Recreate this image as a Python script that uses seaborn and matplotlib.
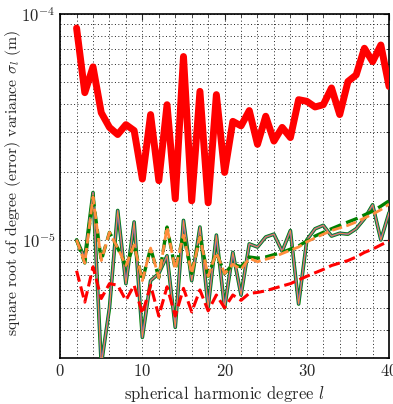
import numpy as np
import pandas as pd
import matplotlib
matplotlib.use("Agg")
import matplotlib.pyplot as plt
from matplotlib.ticker import MultipleLocator, LogLocator, NullFormatter
import seaborn as sns

# spherical harmonic degrees
degree = list(range(2, 41))

# signal degree variance (thick red)
signal = [8.68e-5, 4.49e-5, 5.84e-5, 3.66e-5, 3.15e-5, 2.93e-5, 3.24e-5, 3.05e-5,
          1.86e-5, 3.59e-5, 1.83e-5, 3.97e-5, 1.52e-5, 6.49e-5, 1.49e-5, 4.55e-5,
          1.46e-5, 4.40e-5, 1.99e-5, 3.35e-5, 3.20e-5, 3.74e-5, 2.65e-5, 3.53e-5,
          2.74e-5, 3.15e-5, 2.84e-5, 4.18e-5, 4.11e-5, 3.88e-5, 3.97e-5, 4.71e-5,
          3.59e-5, 5.03e-5, 5.38e-5, 7.06e-5, 6.16e-5, 7.30e-5, 4.78e-5]

# empirical error degree variance (solid, stacked colours)
error_emp = [1.0e-5, 8.3e-6, 1.62e-5, 2.8e-6, 5.0e-6, 1.35e-5, 6.4e-6, 1.2e-5,
             3.7e-6, 6.6e-6, 7.1e-6, 8.5e-6, 4.1e-6, 1.22e-5, 6.6e-6, 1.14e-5,
             5.05e-6, 1.05e-5, 5.0e-6, 8.8e-6, 5.7e-6, 9.6e-6, 9.3e-6, 1.03e-5,
             1.06e-5, 8.9e-6, 1.1e-5, 5.2e-6, 1.0e-5, 1.12e-5, 1.16e-5, 1.04e-5,
             1.07e-5, 1.06e-5, 1.12e-5, 1.24e-5, 1.43e-5, 1.0e-5, 1.32e-5]

# formal error degree variance, two solutions (green and orange dashed)
error_formal_a = [1.0e-5, 7.9e-6, 1.55e-5, 8.1e-6, 1.08e-5, 9.2e-6, 7.7e-6, 9.5e-6,
                  6.6e-6, 9.2e-6, 6.8e-6, 1.14e-5, 7.4e-6, 1.05e-5, 7.1e-6, 1.03e-5,
                  6.9e-6, 8.8e-6, 7.1e-6, 7.8e-6, 7.6e-6, 8.4e-6, 8.3e-6, 8.4e-6,
                  8.6e-6, 8.8e-6, 9.1e-6, 9.4e-6, 9.9e-6, 1.04e-5, 1.08e-5, 1.12e-5,
                  1.16e-5, 1.2e-5, 1.24e-5, 1.29e-5, 1.34e-5, 1.41e-5, 1.49e-5]
error_formal_b = [1.0e-5, 7.9e-6, 1.55e-5, 8.1e-6, 1.08e-5, 9.2e-6, 7.7e-6, 9.5e-6,
                  6.6e-6, 9.2e-6, 6.8e-6, 1.14e-5, 7.4e-6, 1.05e-5, 7.1e-6, 1.03e-5,
                  6.9e-6, 8.8e-6, 7.1e-6, 7.8e-6, 7.4e-6, 8.3e-6, 8.0e-6, 8.2e-6,
                  8.4e-6, 8.7e-6, 9.0e-6, 9.3e-6, 9.8e-6, 1.02e-5, 1.06e-5, 1.1e-5,
                  1.13e-5, 1.16e-5, 1.2e-5, 1.25e-5, 1.3e-5, 1.36e-5, 1.44e-5]

# reference error degree variance (red dashed)
error_ref = [7.3e-6, 5.3e-6, 7.6e-6, 5.5e-6, 6.4e-6, 6.3e-6, 5.4e-6, 6.3e-6,
             4.7e-6, 6.3e-6, 4.6e-6, 6.2e-6, 4.6e-6, 6.1e-6, 4.8e-6, 6.0e-6,
             4.85e-6, 5.7e-6, 5.0e-6, 5.7e-6, 5.4e-6, 5.8e-6, 5.85e-6, 5.95e-6,
             6.1e-6, 6.25e-6, 6.4e-6, 6.65e-6, 6.9e-6, 7.15e-6, 7.4e-6, 7.7e-6,
             7.9e-6, 8.1e-6, 8.4e-6, 8.8e-6, 9.1e-6, 9.5e-6, 9.9e-6]

df = pd.DataFrame({
    "l": degree,
    "signal": signal,
    "error_emp": error_emp,
    "error_formal_a": error_formal_a,
    "error_formal_b": error_formal_b,
    "error_ref": error_ref,
})

sns.set_style("white")
plt.rcParams.update({
    "font.family": "serif",
    "font.serif": ["cmr10"],
    "mathtext.fontset": "cm",
    "axes.formatter.use_mathtext": True,
    "axes.unicode_minus": False,
    "font.size": 12,
})

fig = plt.figure(figsize=(3.93, 4.04), dpi=100)
ax = fig.add_axes([0.153, 0.114, 0.837, 0.851])

green = "#008000"
blue = "#4a5fc1"
orange = "#ff8c3c"
red = "#ff0000"

sns.lineplot(data=df, x="l", y="error_emp", ax=ax, color=green, lw=2.6, zorder=3)
sns.lineplot(data=df, x="l", y="error_emp", ax=ax, color=blue, lw=1.5, zorder=3)
sns.lineplot(data=df, x="l", y="error_emp", ax=ax, color=orange, lw=0.7, zorder=3)
sns.lineplot(data=df, x="l", y="error_formal_a", ax=ax, color=green, lw=2.4,
             linestyle="--", zorder=4)
sns.lineplot(data=df, x="l", y="error_formal_b", ax=ax, color=orange, lw=2.0,
             linestyle="--", zorder=4)
sns.lineplot(data=df, x="l", y="error_ref", ax=ax, color=red, lw=2.2,
             linestyle="--", zorder=5)
sns.lineplot(data=df, x="l", y="signal", ax=ax, color=red, lw=5.0, zorder=5)

ax.set_yscale("log")
ax.set_xlim(0, 40)
ax.set_ylim(3e-6, 1e-4)
ax.xaxis.set_major_locator(MultipleLocator(10))
ax.xaxis.set_minor_locator(MultipleLocator(2))
ax.yaxis.set_major_locator(LogLocator(base=10))
ax.yaxis.set_minor_locator(LogLocator(base=10, subs=np.arange(2, 10)))
ax.yaxis.set_minor_formatter(NullFormatter())

ax.grid(True, which="both", color="#222222", linestyle=(0, (1, 2.5)), linewidth=0.7)
ax.set_axisbelow(True)
ax.tick_params(which="both", direction="in", top=True, right=True, labelsize=12)
ax.tick_params(which="major", length=4)
ax.tick_params(which="minor", length=2)
for s in ax.spines.values():
    s.set_color("black")
    s.set_linewidth(1.2)

ax.set_xlabel("spherical harmonic degree $l$", fontsize=12)
ax.set_ylabel("square root of degree (error) variance $\\sigma_l$ (m)", fontsize=11.3)
ax.yaxis.set_label_coords(-0.112, 0.51)

fig.savefig("out.png", dpi=100)
